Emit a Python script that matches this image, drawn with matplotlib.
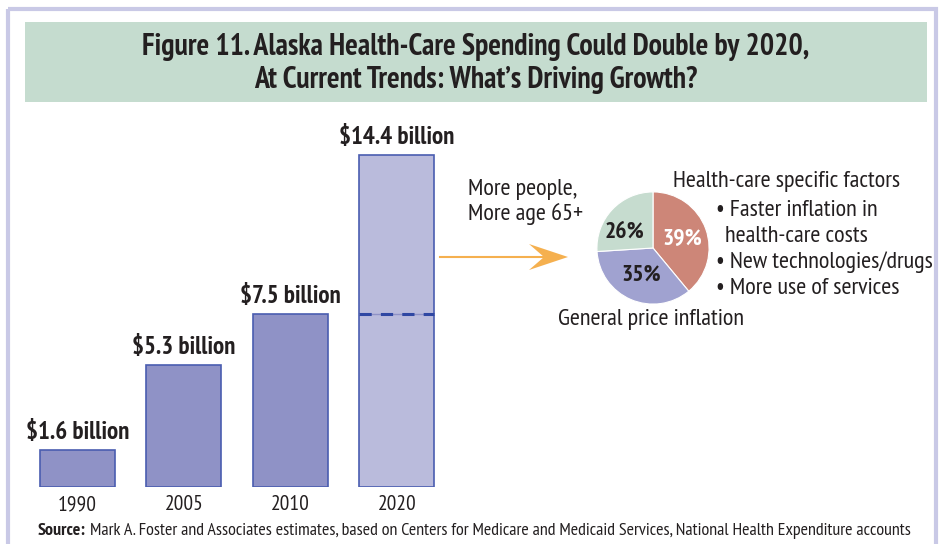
import matplotlib
matplotlib.use("Agg")
import matplotlib.pyplot as plt
from matplotlib import font_manager
from matplotlib.patches import Rectangle, Polygon

installed = {f.name for f in font_manager.fontManager.ttflist}
candidates = ['PT Sans Narrow', 'Fira Sans Condensed', 'Roboto Condensed',
              'Open Sans Condensed', 'Asap Condensed', 'Barlow Condensed']
condensed = [c for c in candidates if c in installed]
plt.rcParams['font.family'] = condensed[:1] + ['DejaVu Sans']

# data
years = ['1990', '2005', '2010', '2020']
spending = [1.6, 5.3, 7.5, 14.4]
bar_labels = ['$1.6 billion', '$5.3 billion', '$7.5 billion', '$14.4 billion']
shares = [39, 35, 26]
share_labels = ['39%', '35%', '26%']

W, H = 943, 544
fig = plt.figure(figsize=(W / 100, H / 100), dpi=100)

# background overlay in pixel coordinates
bg = fig.add_axes([0, 0, 1, 1])
bg.set_xlim(0, W)
bg.set_ylim(H, 0)
bg.axis('off')
bg.add_patch(Rectangle((8, 9), 928, 560, fill=False, ec='#c9c9e6', lw=3))
bg.add_patch(Rectangle((25, 22), 902, 80, fc='#c5dccf', ec='none'))
bg.text(476, 47, 'Figure 11. Alaska Health-Care Spending Could Double by 2020,',
        ha='center', va='center', fontsize=21.5, fontweight='bold', color='#231f20')
bg.text(476, 80, 'At Current Trends: What\u2019s Driving Growth?',
        ha='center', va='center', fontsize=21.5, fontweight='bold', color='#231f20')

# arrow
bg.plot([440, 545], [257, 257], color='#f5b04f', lw=1.5)
bg.add_patch(Polygon([(568, 257), (529, 244), (544, 257), (529, 270)],
                     closed=True, fc='#f5b04f', ec='none'))

# pie annotations
txt = dict(fontsize=17.5, color='#231f20', va='center')
bg.text(468, 190, 'More people,', ha='left', **txt)
bg.text(468, 214, 'More age 65+', ha='left', **txt)
bg.text(673, 182, 'Health-care specific factors', ha='left', **txt)
bg.text(716, 211, '\u2022 Faster inflation in', ha='left', **txt)
bg.text(725, 237, 'health-care costs', ha='left', **txt)
bg.text(716, 262, '\u2022 New technologies/drugs', ha='left', **txt)
bg.text(716, 289, '\u2022 More use of services', ha='left', **txt)
bg.text(651, 319, 'General price inflation', ha='center', **txt)

# source line
src_b = bg.text(38, 531, 'Source:', ha='left', va='center', fontsize=13,
                fontweight='bold', color='#231f20')
r = fig.canvas.get_renderer()
x_end = bg.transData.inverted().transform(src_b.get_window_extent(r).get_points())[1, 0]
bg.text(x_end + 4, 531, 'Mark A. Foster and Associates estimates, based on Centers for Medicare '
        'and Medicaid Services, National Health Expenditure accounts',
        ha='left', va='center', fontsize=13, color='#231f20')

# bar chart
ax = fig.add_axes([24 / W, (H - 487) / H, (450 - 24) / W, (487 - 110) / H])
ax.patch.set_alpha(0)
xs = range(len(years))
colors = ['#8f92c6', '#8f92c6', '#8f92c6', '#babbdc']
ax.bar(xs, spending, width=0.70, color=colors, edgecolor='#4a5db0', linewidth=1.2)
ax.hlines(spending[2], 3 - 0.35, 3 + 0.35, color='#8f92c6', lw=1)
ax.hlines(spending[2], 3 - 0.35, 3 + 0.35, color='#2f47a3', lw=2.2, linestyles=(0, (4, 3)))
for x, v, lab in zip(xs, spending, bar_labels):
    ax.annotate(lab, (x, v), xytext=(0, 12.5), textcoords='offset points',
                ha='center', va='center', fontsize=18, fontweight='bold', color='#231f20')
ax.set_xlim(-0.5, 3.5)
ax.set_ylim(0, 16.35)
ax.set_xticks(list(xs))
ax.set_xticklabels(years, fontsize=15.5, color='#231f20')
ax.tick_params(axis='x', length=0, pad=6)
ax.set_yticks([])
for s in ax.spines.values():
    s.set_visible(False)

# pie chart (radius 1 -> ~56 px, centred at 653, 248)
pax = fig.add_axes([(653 - 60) / W, (H - 248 - 60) / H, 120 / W, 120 / H])
wedges, texts = pax.pie(shares, startangle=90, counterclock=False,
                        colors=['#cd8678', '#a0a2d0', '#c6dccf'],
                        wedgeprops=dict(edgecolor='white', linewidth=0.8))
pax.set_xlim(-1.07, 1.07)
pax.set_ylim(-1.07, 1.07)
pax.set_aspect('equal')
lab_pos = [(0.52, 0.16), (-0.21, -0.48), (-0.51, 0.29)]
lab_col = ['white', '#231f20', '#231f20']
for (px, py), lab, c in zip(lab_pos, share_labels, lab_col):
    pax.text(px, py, lab, ha='center', va='center', fontsize=17,
             fontweight='bold', color=c)

fig.savefig('out.png', dpi=100)
